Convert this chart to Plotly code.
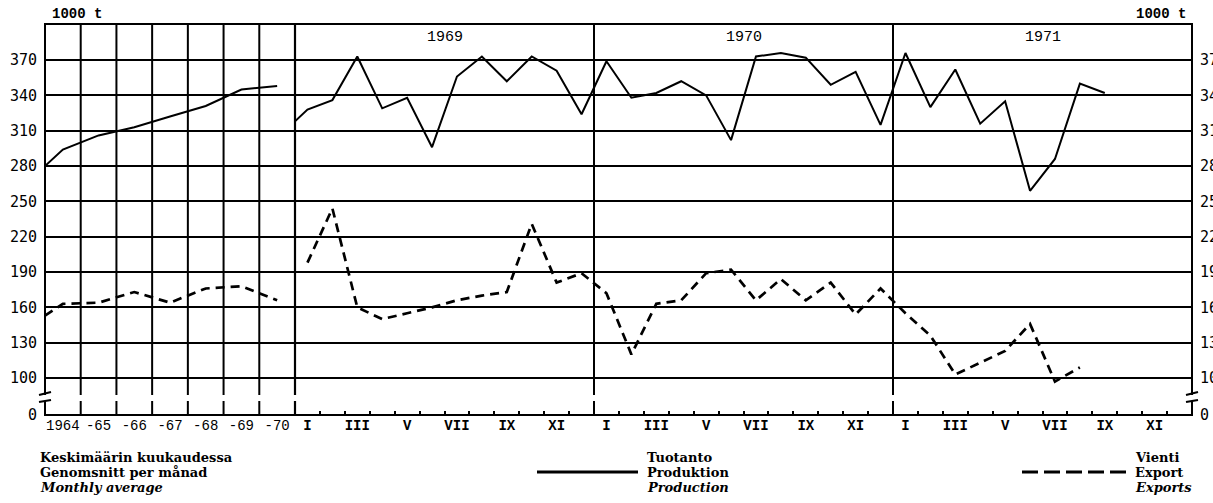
import plotly.graph_objects as go

# ---------------- data ----------------
# Left panel: yearly averages (x = position in years, 1964.0 = left edge)
annual_x = [1964.0, 1964.5, 1965.5, 1966.5, 1967.5, 1968.5, 1969.5, 1970.5]
annual_prod = [280, 294, 306, 313, 322, 331, 345, 348]
annual_exp = [153, 163, 164, 173, 164, 176, 178, 166]
annual_labels = ["1964", "-65", "-66", "-67", "-68", "-69", "-70"]
annual_label_pos = [1964.5, 1965.5, 1966.5, 1967.5, 1968.5, 1969.5, 1970.5]

# Right panel: monthly values 1969-1971 (x = month position, 0 = start of 1969)
years = ["1969", "1970", "1971"]
prod_x = [0.0] + [i + 0.5 for i in range(33)]
prod_monthly = [318,
                328, 336, 373, 329, 338, 296, 356, 373, 352, 373, 361, 324,
                369, 338, 342, 352, 340, 302, 373, 376, 372, 349, 360, 315,
                376, 330, 362, 316, 335, 259, 286, 350, 342]
exp_x = [i + 0.5 for i in range(32)]
exp_monthly = [198, 244, 160, 150, 155, 160, 166, 170, 173, 231, 181, 189,
               172, 120, 163, 166, 189, 192, 166, 184, 166, 181, 154, 176,
               155, 136, 103, 113, 123, 146, 97, 109]
month_labels = ["I", "III", "V", "VII", "IX", "XI"]

y_ticks = [100, 130, 160, 190, 220, 250, 280, 310, 340, 370]
y_bottom = 68.6
y_top = 400.6

# ---------------- figure ----------------
solid = dict(color="black", width=2)
dashed = dict(color="black", width=2.7, dash="9px,6px")

fig = go.Figure()
fig.add_trace(go.Scatter(x=annual_x, y=annual_prod, mode="lines", line=solid,
                         xaxis="x", yaxis="y", showlegend=False, hoverinfo="skip"))
fig.add_trace(go.Scatter(x=annual_x, y=annual_exp, mode="lines", line=dashed,
                         xaxis="x", yaxis="y", showlegend=False, hoverinfo="skip"))
fig.add_trace(go.Scatter(x=prod_x, y=prod_monthly, mode="lines", line=solid,
                         xaxis="x2", yaxis="y", showlegend=False, hoverinfo="skip"))
fig.add_trace(go.Scatter(x=exp_x, y=exp_monthly, mode="lines", line=dashed,
                         xaxis="x2", yaxis="y", showlegend=False, hoverinfo="skip"))
# invisible trace so the right-hand axis is drawn
fig.add_trace(go.Scatter(x=[0.5], y=[200], mode="markers", marker=dict(opacity=0),
                         xaxis="x2", yaxis="y2", showlegend=False, hoverinfo="skip"))

W, H = 1213, 503
L, R, T, B = 45, 21, 24, 88
pw, ph = W - L - R, H - T - B
split = 250 / pw


def px2x(px):
    return (px - L) / pw


def px2y(py):
    return (H - B - py) / ph


tickvals_y = [y_bottom + 0.05] + y_ticks
ticktext_y = ["0"] + [str(v) for v in y_ticks]
yfont = dict(family="DejaVu Sans Mono", size=15, color="black")

month_tickvals = []
month_ticktext = []
for yi in range(3):
    for k, lab in enumerate(month_labels):
        month_tickvals.append(yi * 12 + 2 * k + 0.5)
        month_ticktext.append(lab)

fig.update_layout(
    width=W, height=H,
    margin=dict(l=L, r=R, t=T, b=B, autoexpand=False),
    paper_bgcolor="white", plot_bgcolor="white",
    xaxis=dict(domain=[0, split], range=[1964, 1971], anchor="y",
               tickmode="array", tickvals=annual_label_pos, ticktext=annual_labels,
               showgrid=False, zeroline=False, showline=False, ticks="",
               tickfont=dict(family="Liberation Mono", size=14, color="black")),
    xaxis2=dict(domain=[split, 1], range=[0, 36], anchor="y",
                tickmode="array", tickvals=month_tickvals, ticktext=month_ticktext,
                showgrid=False, zeroline=False, showline=False, ticks="",
                tickfont=dict(family="Liberation Mono", size=14, color="black", weight="bold"),
                minor=dict(tick0=0, dtick=1, ticks="inside", ticklen=4,
                           tickwidth=1.5, tickcolor="black", showgrid=False)),
    yaxis=dict(range=[y_bottom, y_top], anchor="x", tickmode="array",
               tickvals=tickvals_y, ticktext=ticktext_y,
               showgrid=True, gridcolor="black", gridwidth=1.6,
               zeroline=False, showline=False, ticks="", ticklabelstandoff=7,
               tickfont=yfont, automargin=False),
    yaxis2=dict(range=[y_bottom, y_top], overlaying="y", side="right", anchor="x2",
                tickmode="array", tickvals=tickvals_y, ticktext=ticktext_y,
                showgrid=False, zeroline=False, showline=False, ticks="",
                ticklabelstandoff=7, tickfont=yfont, automargin=False),
)

shapes = []
# vertical year lines in the left panel
for yr in range(1965, 1971):
    shapes.append(dict(type="line", xref="x", yref="paper", x0=yr, x1=yr, y0=0, y1=1,
                       line=dict(color="black", width=2), layer="below"))
# panel split and year boundaries in the right panel
shapes.append(dict(type="line", xref="paper", yref="paper", x0=split, x1=split, y0=0, y1=1,
                   line=dict(color="black", width=2.2), layer="below"))
for b in [12, 24]:
    shapes.append(dict(type="line", xref="x2", yref="paper", x0=b, x1=b, y0=0, y1=1,
                       line=dict(color="black", width=2), layer="below"))
# frame
shapes.append(dict(type="rect", xref="paper", yref="paper", x0=0, x1=1, y0=0, y1=1,
                   line=dict(color="black", width=2), layer="below"))
# axis break band
shapes.append(dict(type="rect", xref="paper", yref="paper", x0=-0.004, x1=1.004,
                   y0=px2y(401), y1=px2y(395), fillcolor="white",
                   line=dict(width=0), layer="above"))
for xc in [L, W - R]:
    shapes.append(dict(type="line", xref="paper", yref="paper",
                       x0=px2x(xc - 6), x1=px2x(xc + 6), y0=px2y(395), y1=px2y(392),
                       line=dict(color="black", width=2), layer="above"))
    shapes.append(dict(type="line", xref="paper", yref="paper",
                       x0=px2x(xc - 6), x1=px2x(xc + 6), y0=px2y(402), y1=px2y(400),
                       line=dict(color="black", width=2), layer="above"))
# legend samples
shapes.append(dict(type="line", xref="paper", yref="paper", x0=px2x(537), x1=px2x(638),
                   y0=px2y(472), y1=px2y(472), line=dict(color="black", width=3)))
shapes.append(dict(type="line", xref="paper", yref="paper", x0=px2x(1022), x1=px2x(1127),
                   y0=px2y(472), y1=px2y(472),
                   line=dict(color="black", width=3, dash="16px,6px")))
fig.update_layout(shapes=shapes)

ann = []
unit_font = dict(family="Liberation Mono", size=14, color="black", weight="bold")
ann.append(dict(text="1000 t", xref="paper", yref="paper", x=px2x(50), y=px2y(14),
                xanchor="left", yanchor="middle", showarrow=False, font=unit_font))
ann.append(dict(text="1000 t", xref="paper", yref="paper", x=px2x(1188), y=px2y(14),
                xanchor="right", yanchor="middle", showarrow=False, font=unit_font))
for i, yl in enumerate(years):
    ann.append(dict(text=yl, xref="x2", yref="paper", x=12 * i + 6, y=px2y(37),
                    xanchor="center", yanchor="middle", showarrow=False,
                    font=dict(family="Liberation Mono", size=15, color="black")))

legend_blocks = [
    (38, ["Keskimäärin kuukaudessa", "Genomsnitt per månad", "Monthly average"]),
    (645, ["Tuotanto", "Produktion", "Production"]),
    (1133, ["Vienti", "Export", "Exports"]),
]
serif = dict(family="DejaVu Serif", size=13, color="black", weight="bold")
for xpx, lines in legend_blocks:
    for j, (txt, ypx) in enumerate(zip(lines, [457, 472, 487])):
        t = f"<i>{txt}</i>" if j == 2 else txt
        ann.append(dict(text=t, xref="paper", yref="paper", x=px2x(xpx), y=px2y(ypx),
                        xanchor="left", yanchor="middle", showarrow=False, font=serif))
fig.update_layout(annotations=ann)

fig.write_html("out.html",
               config={"displayModeBar": False},
               post_script="document.body.style.margin='0px';document.body.style.overflow='hidden';")
